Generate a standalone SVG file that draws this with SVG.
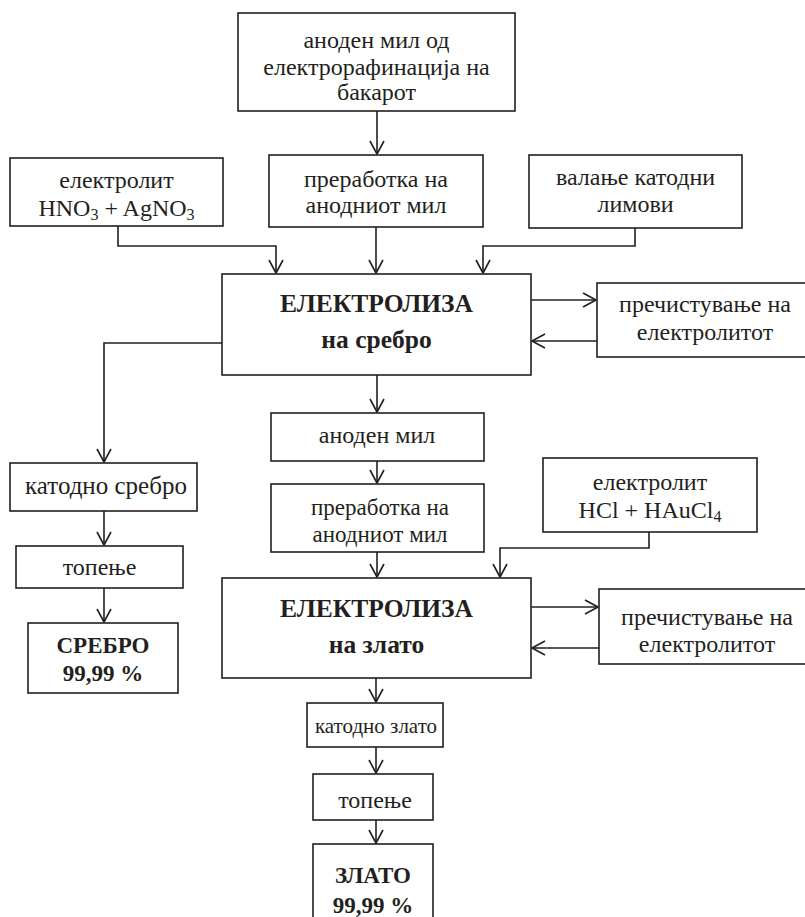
<svg xmlns="http://www.w3.org/2000/svg" width="805" height="917" viewBox="0 0 805 917">
<style>
rect{fill:#fff;stroke:#231f20;stroke-width:1.6}
text{font-family:"Liberation Serif",serif;font-size:24px;fill:#231f20;text-anchor:middle}
.b{font-weight:bold;font-size:25.5px}
.s{font-size:23px}
.c path,.c line{fill:none;stroke:#231f20;stroke-width:1.6;marker-end:url(#ah)}
</style>
<defs>
<marker id="ah" markerUnits="userSpaceOnUse" markerWidth="18" markerHeight="18" viewBox="-15 -9 18 18" refX="0" refY="0" orient="auto">
<path d="M-13,-7 L0,0 L-13,7" fill="none" stroke="#231f20" stroke-width="1.6" stroke-linejoin="round"/>
</marker>
</defs>
<rect x="0" y="0" width="805" height="917" style="stroke:none;fill:#fff"/>
<g class="c" id="connectors">
<line x1="377" y1="111" x2="377" y2="154"/>
<path d="M118,226 V246 H276 V273"/>
<line x1="376" y1="227" x2="376" y2="273"/>
<path d="M635,228 V246 H483 V273"/>
<line x1="531" y1="300" x2="596" y2="300"/>
<line x1="597" y1="341" x2="532" y2="341"/>
<path d="M222,343 H104 V462"/>
<line x1="104" y1="511" x2="104" y2="545"/>
<line x1="104" y1="588" x2="104" y2="622"/>
<line x1="377" y1="375" x2="377" y2="412"/>
<line x1="377" y1="461" x2="377" y2="483"/>
<line x1="377" y1="552" x2="377" y2="577"/>
<path d="M649,532 V548 H500 V577"/>
<line x1="531" y1="607" x2="598" y2="607"/>
<line x1="599" y1="648" x2="532" y2="648"/>
<line x1="376" y1="678" x2="376" y2="702"/>
<line x1="376" y1="747" x2="376" y2="773"/>
<line x1="376" y1="820" x2="376" y2="843"/>
</g>
<g id="n_top"><rect x="238" y="13" width="277" height="98"/>
<text x="376.5" y="48">аноден мил од</text><text x="376.5" y="75">електрорафинација на</text><text x="376.5" y="100">бакарот</text></g>
<g id="n_elec_ag"><rect x="10" y="158" width="213" height="68"/>
<text x="116.5" y="188">електролит</text><text x="116.5" y="216">HNO<tspan font-size="16" dy="4">3</tspan><tspan dy="-4"> + AgNO</tspan><tspan font-size="16" dy="4">3</tspan></text></g>
<g id="n_prer1"><rect x="269" y="155" width="214" height="72"/>
<text x="376" y="187">преработка на</text><text x="376" y="213">анодниот мил</text></g>
<g id="n_val"><rect x="529" y="155" width="213" height="73"/>
<text x="635.5" y="185">валање катодни</text><text x="635.5" y="212">лимови</text></g>
<g id="n_elyz_ag"><rect x="222" y="274" width="309" height="101"/>
<text class="b" x="376.5" y="312">ЕЛЕКТРОЛИЗА</text><text class="b" x="376.5" y="348">на сребро</text></g>
<g id="n_pur1"><rect x="597" y="283" width="215" height="74"/>
<text x="705" y="312">пречистување на</text><text x="705" y="340">електролитот</text></g>
<g id="n_cat_ag"><rect x="10" y="463" width="187" height="48"/>
<text x="106" y="494" style="font-size:25px">катодно сребро</text></g>
<g id="n_top_ag"><rect x="16" y="546" width="167" height="42"/>
<text x="99.5" y="575">топење</text></g>
<g id="n_ag"><rect x="28" y="623" width="150" height="70"/>
<text class="b s" x="103" y="653">СРЕБРО</text><text class="b s" x="103" y="681">99,99 %</text></g>
<g id="n_anod"><rect x="271" y="413" width="213" height="48"/>
<text x="377" y="443">аноден мил</text></g>
<g id="n_prer2"><rect x="271" y="484" width="213" height="68"/>
<text x="380" y="515" style="font-size:23px">преработка на</text><text x="380" y="542" style="font-size:23px">анодниот мил</text></g>
<g id="n_elec_au"><rect x="543" y="458" width="214" height="74"/>
<text x="650" y="490">електролит</text><text x="650" y="518">HCl + HAuCl<tspan font-size="16" dy="4">4</tspan></text></g>
<g id="n_elyz_au"><rect x="222" y="578" width="309" height="100"/>
<text class="b" x="376.5" y="617">ЕЛЕКТРОЛИЗА</text><text class="b" x="376.5" y="653">на злато</text></g>
<g id="n_pur2"><rect x="599" y="589" width="215" height="75"/>
<text x="707" y="625">пречистување на</text><text x="707" y="652">електролитот</text></g>
<g id="n_cat_au"><rect x="307" y="703" width="136" height="44"/>
<text x="376" y="733" style="font-size:21px">катодно злато</text></g>
<g id="n_top_au"><rect x="313" y="774" width="120" height="46"/>
<text x="375" y="808">топење</text></g>
<g id="n_au"><rect x="313" y="844" width="120" height="90"/>
<text class="b s" x="373" y="883">ЗЛАТО</text><text class="b s" x="373" y="913">99,99 %</text></g>
</svg>
